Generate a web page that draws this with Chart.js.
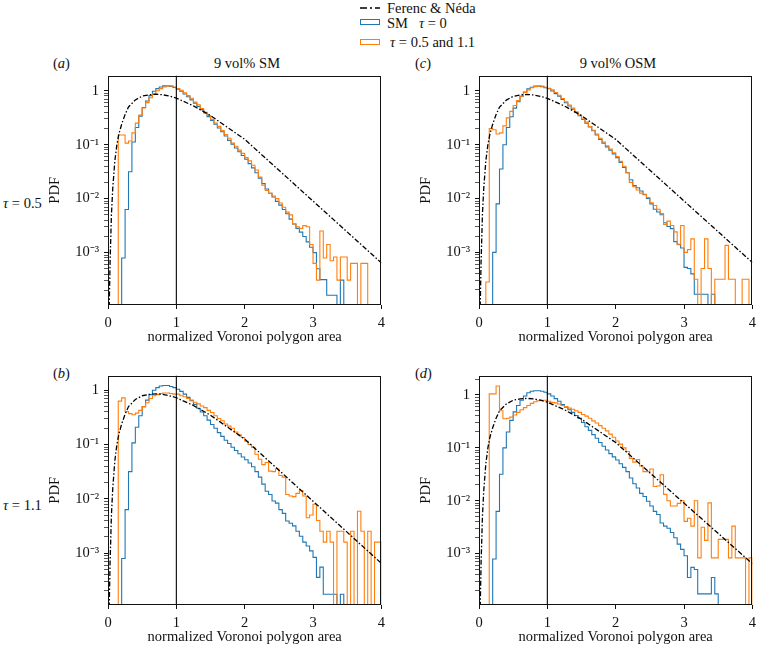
<!DOCTYPE html>
<html>
<head>
<meta charset="utf-8">
<title>Normalized Voronoi polygon area PDF</title>
<script src="https://cdn.jsdelivr.net/npm/chart.js@4.4.1/dist/chart.umd.min.js"></script>
<style>
  body {
    margin: 0; width: 761px; height: 649px; position: relative; overflow: hidden; background: #fff;
    font-family: 'Liberation Serif', 'Times New Roman', serif; font-size: 14.5px; color: #111;
  }
  canvas { position: absolute; }
  .txt { position: absolute; white-space: nowrap; line-height: 15px; transform: translateY(-50%); }
  .mid { transform: translate(-50%, -50%); }
  .key { position: absolute; width: 18px; height: 4px; border: 1px solid; }
</style>
</head>
<body>

<!-- legend -->
<svg style="position:absolute; left:360px; top:4px" width="22" height="8">
  <line x1="0" y1="4" x2="20" y2="4" stroke="#000" stroke-width="1.5" stroke-dasharray="7 3 2 3"/>
</svg>
<div class="txt" style="left:387px; top:8px">Ferenc &amp; Néda</div>
<div class="key" style="left:360px; top:19px; border-color:#1f77b4"></div>
<div class="txt" style="left:387px; top:23px">SM<span style="margin-left:11px"><i>τ</i> = 0</span></div>
<div class="key" style="left:360px; top:39px; border-color:#ff7f0e"></div>
<div class="txt" style="left:390px; top:41.5px"><i>τ</i> = 0.5 and 1.1</div>

<!-- panel captions -->
<div class="txt" style="left:53px; top:63px">(<i>a</i>)</div>
<div class="txt" style="left:415px; top:63px">(<i>c</i>)</div>
<div class="txt" style="left:53px; top:373px">(<i>b</i>)</div>
<div class="txt" style="left:415px; top:373px">(<i>d</i>)</div>
<div class="txt mid" style="left:247px; top:63px">9 vol% SM</div>
<div class="txt mid" style="left:618px; top:63px">9 vol% OSM</div>
<div class="txt" style="left:3px; top:203px"><i>τ</i> = 0.5</div>
<div class="txt" style="left:3px; top:505px"><i>τ</i> = 1.1</div>

<canvas id="panelA" width="346" height="287" style="left:44px; top:62px"></canvas>
<canvas id="panelC" width="346" height="287" style="left:415px; top:62px"></canvas>
<canvas id="panelB" width="346" height="287" style="left:44px; top:362px"></canvas>
<canvas id="panelD" width="346" height="287" style="left:415px; top:362px"></canvas>

<script>
// Histogram bins: 80 bins of width 0.05 from 0 to 4 (left edges plus the final right edge)
const binEdges = Array.from({ length: 81 }, (_, i) => Math.round(i * 5) / 100);

// log10(PDF) per bin; null = empty bin
// (a) 9 vol% SM, tau = 0.5
const refA = [
  null, null, null, null, -3.1, -2.2, -1.5, -0.95, -0.68, -0.47,
  -0.31, -0.19, -0.09, -0.01, 0.04, 0.07, 0.09, 0.09, 0.08, 0.06,
  0.03, -0.01, -0.06, -0.11, -0.17, -0.23, -0.29, -0.35, -0.41, -0.48,
  -0.55, -0.62, -0.69, -0.76, -0.84, -0.92, -0.99, -1.06, -1.13, -1.2,
  -1.27, -1.35, -1.43, -1.52, -1.62, -1.72, -1.82, -1.9, -1.97, -2.05,
  -2.12, -2.2, -2.28, -2.38, -2.47, -2.55, -2.62, -2.7, -2.8, -2.9,
  -3.0, -3.3, -3.5, -3.5, -3.79, -3.79, -3.79, null, -3.51, null,
  null, null, null, null, null, null, null, null, null, null
];
const shearA = [
  null, null, null, -0.82, -0.82, -0.97, -0.93, -0.78, -0.6, -0.45,
  -0.32, -0.22, -0.13, -0.06, 0.0, 0.04, 0.07, 0.09, 0.09, 0.07,
  0.04, 0.01, -0.04, -0.09, -0.14, -0.21, -0.26, -0.33, -0.4, -0.46,
  -0.53, -0.6, -0.66, -0.74, -0.81, -0.88, -0.97, -1.03, -1.1, -1.16,
  -1.24, -1.3, -1.38, -1.47, -1.6, -1.75, -1.85, -1.9, -1.95, -2.0,
  -2.08, -2.16, -2.25, -2.3, -2.47, -2.52, -2.55, -2.5, -2.52, -2.85,
  -3.2, -3.51, -2.6, -3.1, -2.85, -3.15, -3.08, -3.51, -3.08, -3.08,
  -3.51, -3.2, -3.2, null, -3.2, -3.2, null, null, null, null
];

// (c) 9 vol% OSM, tau = 0.5
const refC = [
  null, null, null, null, -3.0, -2.1, -1.45, -1.0, -0.68, -0.48,
  -0.32, -0.2, -0.1, -0.02, 0.04, 0.07, 0.09, 0.09, 0.08, 0.06,
  0.04, 0.0, -0.05, -0.1, -0.16, -0.22, -0.28, -0.34, -0.4, -0.46,
  -0.53, -0.6, -0.67, -0.74, -0.82, -0.9, -0.97, -1.04, -1.1, -1.17,
  -1.24, -1.33, -1.42, -1.52, -1.65, -1.76, -1.8, -1.86, -1.93, -2.0,
  -2.1, -2.2, -2.25, -2.3, -2.45, -2.52, -2.56, -2.8, -2.85, -2.92,
  -3.28, -3.3, -3.4, -3.78, -3.78, -3.78, -3.78, null, -3.78, null,
  null, null, null, null, null, null, null, null, null, null
];
const shearC = [
  null, null, -3.55, -0.7, -0.72, -0.8, -0.78, -0.65, -0.5, -0.38,
  -0.27, -0.18, -0.1, -0.03, 0.02, 0.06, 0.08, 0.09, 0.09, 0.07,
  0.05, 0.02, -0.03, -0.08, -0.14, -0.2, -0.26, -0.32, -0.39, -0.45,
  -0.52, -0.58, -0.66, -0.73, -0.8, -0.88, -0.95, -1.02, -1.08, -1.15,
  -1.22, -1.31, -1.4, -1.52, -1.7, -1.78, -1.84, -1.9, -1.92, -1.98,
  -2.08, -2.13, -2.2, -2.28, -2.48, -2.42, -2.5, -2.62, -2.86, -2.5,
  -3.0, -2.95, -2.75, -3.5, null, -3.3, -2.75, -3.3, null, -3.5,
  -3.5, -3.5, -2.87, -3.5, -3.5, null, null, -3.5, -3.5, null
];

// (b) 9 vol% SM, tau = 1.1
const refB = [
  null, null, null, null, -3.1, -2.2, -1.5, -0.97, -0.68, -0.47,
  -0.3, -0.18, -0.08, 0.0, 0.05, 0.08, 0.09, 0.09, 0.07, 0.05,
  0.02, -0.02, -0.07, -0.13, -0.19, -0.26, -0.33, -0.4, -0.47, -0.55,
  -0.63, -0.7, -0.78, -0.85, -0.92, -0.98, -1.05, -1.11, -1.17, -1.23,
  -1.28, -1.34, -1.41, -1.5, -1.6, -1.73, -1.86, -1.92, -2.04, -2.08,
  -2.2, -2.27, -2.41, -2.45, -2.5, -2.6, -2.69, -2.8, -2.87, -2.96,
  -3.08, -3.45, -3.26, -3.76, -3.76, -3.76, -3.76, null, -3.76, null,
  null, null, null, null, null, null, null, null, null, null
];
const shearB = [
  null, null, null, -0.2, -0.14, -0.39, -0.43, -0.45, -0.42, -0.37,
  -0.3, -0.23, -0.15, -0.1, -0.08, -0.06, -0.05, -0.05, -0.06, -0.07,
  -0.07, -0.1, -0.12, -0.15, -0.18, -0.22, -0.25, -0.29, -0.32, -0.37,
  -0.41, -0.47, -0.52, -0.56, -0.62, -0.66, -0.7, -0.77, -0.82, -0.87,
  -0.94, -1.0, -1.05, -1.18, -1.27, -1.37, -1.33, -1.49, -1.5, -1.45,
  -1.57, -1.6, -1.92, -1.95, -1.96, -1.9, -1.85, -1.95, -2.35, -2.3,
  -2.1, -2.4, -2.6, -2.8, -2.6, -2.8, null, -2.6, -2.6, -2.8,
  null, -2.6, null, -2.23, -2.6, null, -2.6, null, -2.8, -2.8
];

// (d) 9 vol% OSM, tau = 1.1
const refD = [
  null, null, null, null, -3.1, -2.2, -1.5, -1.0, -0.7, -0.48,
  -0.32, -0.2, -0.1, -0.02, 0.04, 0.07, 0.08, 0.08, 0.07, 0.05,
  0.02, -0.02, -0.07, -0.12, -0.18, -0.23, -0.28, -0.33, -0.39, -0.44,
  -0.52, -0.6, -0.67, -0.75, -0.82, -0.9, -0.97, -1.04, -1.11, -1.17,
  -1.23, -1.3, -1.37, -1.45, -1.57, -1.68, -1.76, -1.86, -1.92, -2.01,
  -2.1, -2.2, -2.26, -2.42, -2.48, -2.52, -2.6, -2.7, -2.82, -2.92,
  -3.04, -3.45, -3.26, -3.3, -3.76, -3.76, -3.76, -3.76, -3.45, -3.76,
  null, null, null, null, null, null, null, null, null, null
];
const shearD = [
  null, null, null, 0.02, 0.02, 0.17, -0.3, -0.45, -0.44, -0.42,
  -0.38, -0.33, -0.28, -0.24, -0.2, -0.16, -0.13, -0.11, -0.1, -0.1,
  -0.12, -0.14, -0.15, -0.17, -0.2, -0.22, -0.25, -0.27, -0.3, -0.33,
  -0.37, -0.4, -0.44, -0.49, -0.53, -0.58, -0.63, -0.68, -0.74, -0.8,
  -0.87, -0.93, -1.0, -1.07, -1.2, -1.27, -1.22, -1.34, -1.45, -1.45,
  -1.4, -1.73, -1.72, -1.51, -1.88, -2.0, -2.1, -2.1, -2.05, -2.0,
  -2.39, -2.33, -2.48, -2.0, -3.08, -2.5, -2.75, -2.04, -3.08, -3.08,
  -2.73, -2.73, -2.73, -3.08, -2.48, -3.08, -3.08, -3.08, null, -3.08
];

// Ferenc & Néda curve (x, log10 PDF)
const fnX = [0.015, 0.03, 0.05, 0.07, 0.1, 0.13, 0.16, 0.2, 0.25, 0.3, 0.4, 0.5, 0.6, 0.7, 0.8, 0.9, 1.0, 1.25, 1.5, 2.0, 4.0];
const fnLog = [-4.2, -3.2, -2.3, -1.8, -1.3, -1.0, -0.8, -0.62, -0.44, -0.3, -0.17, -0.1, -0.075, -0.065, -0.075, -0.1, -0.137, -0.28, -0.46, -0.9, -3.19];

// Axis ticks
const xTicks = [0, 1, 2, 3, 4];
const decadeExps = [-4, -3, -2, -1, 0];
const decadeLabels = { '-3': '10\u207B\u00B3', '-2': '10\u207B\u00B2', '-1': '10\u207B\u00B9', '0': '1' };
const minorFactors = [2, 3, 4, 5, 6, 7, 8, 9];

const FLOOR = 1e-6; // empty bins sit far below every axis minimum
const INK = '#111';
const tickFont = { family: "'Liberation Serif', 'Times New Roman', serif", size: 14.5 };

const yTickValues = [];
decadeExps.forEach(e => {
    yTickValues.push(Math.pow(10, e));
    minorFactors.forEach(f => yTickValues.push(f * Math.pow(10, e)));
});

function decadeOf(v) {
    const e = Math.log10(v);
    return Math.abs(e - Math.round(e)) < 1e-9 ? Math.round(e) : null;
}

/**
 * Turns a list of per-bin log10 values into step points (left edge of each bin + closing edge).
 */
function histPoints(logs) {
    const pts = logs.map((v, i) => ({ x: binEdges[i], y: v === null ? FLOOR : Math.pow(10, v) }));
    pts.push({ x: binEdges[logs.length], y: FLOOR });
    return pts;
}

// Box around the plotting area
const framePlugin = {
    id: 'frame',
    afterDraw(chart) {
        const { ctx, chartArea: a } = chart;
        ctx.save();
        ctx.strokeStyle = INK;
        ctx.lineWidth = 1;
        ctx.strokeRect(Math.round(a.left) + 0.5, Math.round(a.top) + 0.5,
            Math.round(a.right - a.left) - 1, Math.round(a.bottom - a.top) - 1);
        ctx.restore();
    }
};

const panels = [
    { id: 'panelA', ref: refA, shear: shearA, yMin: 1.07e-4, yMax: 1.9 },
    { id: 'panelC', ref: refC, shear: shearC, yMin: 1.05e-4, yMax: 1.92 },
    { id: 'panelB', ref: refB, shear: shearB, yMin: 1.1e-4, yMax: 1.86 },
    { id: 'panelD', ref: refD, shear: shearD, yMin: 1.07e-4, yMax: 2.31 }
];

function makePanel(p) {
    const canvas = document.getElementById(p.id);
    return new Chart(canvas, {
        type: 'line',
        data: {
            datasets: [
                {
                    label: 'Ferenc & Néda',
                    data: fnX.map((x, i) => ({ x, y: Math.pow(10, fnLog[i]) })),
                    borderColor: '#000', borderWidth: 1.3, borderDash: [5, 2, 1.5, 2], order: 0
                },
                {
                    label: 'x = 1',
                    data: [{ x: 1, y: FLOOR }, { x: 1, y: 100 }],
                    borderColor: '#000', borderWidth: 1.1, order: 0
                },
                {
                    label: 'SM τ = 0',
                    data: histPoints(p.ref),
                    borderColor: '#1f77b4', borderWidth: 1.1, stepped: 'before', order: 2
                },
                {
                    label: 'τ = 0.5 and 1.1',
                    data: histPoints(p.shear),
                    borderColor: '#ff7f0e', borderWidth: 1.1, stepped: 'before', order: 1
                }
            ]
        },
        options: {
            responsive: false,
            animation: false,
            events: [],
            layout: { padding: { top: 12, right: 4, left: 0, bottom: 0 } },
            elements: { point: { radius: 0 }, line: { tension: 0, fill: false } },
            plugins: { legend: { display: false }, tooltip: { enabled: false } },
            scales: {
                x: {
                    type: 'linear', min: 0, max: 4,
                    afterBuildTicks: (scale) => { scale.ticks = xTicks.map(v => ({ value: v })); },
                    afterFit: (scale) => { scale.height = 44; },
                    ticks: { padding: 5, color: INK, font: tickFont, callback: (v) => String(v) },
                    grid: { drawOnChartArea: false, tickLength: 4, tickColor: INK },
                    border: { display: false },
                    title: {
                        display: true, text: 'normalized Voronoi polygon area',
                        color: INK, font: tickFont, padding: { top: 0, bottom: 3 }
                    }
                },
                y: {
                    type: 'logarithmic', min: p.yMin, max: p.yMax,
                    afterBuildTicks: (scale) => {
                        scale.ticks = yTickValues
                            .filter(v => v >= scale.min && v <= scale.max)
                            .map(v => ({ value: v }));
                    },
                    afterFit: (scale) => { scale.width = 64; },
                    ticks: {
                        autoSkip: false, padding: 5, color: INK, font: tickFont,
                        callback: (v) => {
                            const e = decadeOf(v);
                            return e !== null && decadeLabels[e] ? decadeLabels[e] : '';
                        }
                    },
                    grid: {
                        drawOnChartArea: false, tickLength: 4, tickColor: INK,
                        tickWidth: (c) => (c.tick && decadeOf(c.tick.value) !== null ? 1 : 0.7)
                    },
                    border: { display: false },
                    title: {
                        display: true, text: 'PDF', color: INK, font: tickFont,
                        padding: { top: 2, bottom: 0 }
                    }
                }
            }
        },
        plugins: [framePlugin]
    });
}

panels.forEach(makePanel);
</script>
</body>
</html>
